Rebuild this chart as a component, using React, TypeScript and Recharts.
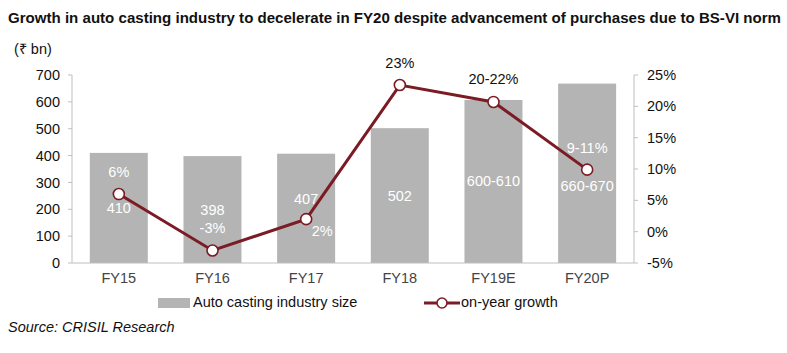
import { ComposedChart, Bar, Line, XAxis, YAxis } from 'recharts';

const categories = ['FY15', 'FY16', 'FY17', 'FY18', 'FY19E', 'FY20P'];
const industrySize = [410, 398, 407, 502, 607, 668];
const yoyGrowth = [6, -3, 2, 23.4, 20.7, 9.9];
const sizeLabels = ['410', '398', '407', '502', '600-610', '660-670'];
const growthLabels = ['6%', '-3%', '2%', '23%', '20-22%', '9-11%'];
const leftTicks = [0, 100, 200, 300, 400, 500, 600, 700];
const rightTicks = [-5, 0, 5, 10, 15, 20, 25];

// label nudges (px) so the text clears the line, as in the source chart
const sizeLabelShift = [0, 0, -9, 0, 0, 13];
const growthLabelDx = [0, 0, 16, 0, 0, 0];
const growthLabelDy = [-22, -22, 12, -22, -23, -22];
const growthLabelInBar = [true, true, true, false, false, true];

const BAR_COLOR = '#b4b4b4';
const LINE_COLOR = '#7b1c25';
const AXIS_COLOR = '#bfbfbf';
const FONT = '"Liberation Sans", Arial, sans-serif';

const data = categories.map((c, i) => ({
  year: c,
  size: industrySize[i],
  growth: yoyGrowth[i],
}));

const SizeBar = (props: any) => {
  const { x, y, width, height, index } = props;
  return (
    <g>
      <rect x={x} y={y} width={width} height={height} fill={BAR_COLOR} />
      <text
        x={x + width / 2}
        y={y + height / 2 + sizeLabelShift[index]}
        textAnchor="middle"
        dominantBaseline="central"
        fill="#ffffff"
        fontSize={14.5}
        fontFamily={FONT}
      >
        {sizeLabels[index]}
      </text>
    </g>
  );
};

const GrowthDot = (props: any) => {
  const { cx, cy, index } = props;
  return (
    <g key={`dot-${index}`}>
      <circle cx={cx} cy={cy} r={5.5} fill="#ffffff" stroke={LINE_COLOR} strokeWidth={1.6} />
      <text
        x={cx + growthLabelDx[index]}
        y={cy + growthLabelDy[index]}
        textAnchor="middle"
        dominantBaseline="central"
        fill={growthLabelInBar[index] ? '#ffffff' : '#111111'}
        fontSize={14.5}
        fontFamily={FONT}
      >
        {growthLabels[index]}
      </text>
    </g>
  );
};

const ChartLegend = () => (
  <div style={{ position: 'absolute', left: 0, top: 293, width: 787, height: 20, fontSize: 14.5, color: '#111' }}>
    <div style={{ position: 'absolute', left: 158, top: 5, width: 32, height: 10, background: BAR_COLOR }} />
    <div style={{ position: 'absolute', left: 193, top: 1 }}>Auto casting industry size</div>
    <svg style={{ position: 'absolute', left: 424, top: 0 }} width={36} height={20}>
      <line x1={0} y1={10} x2={36} y2={10} stroke={LINE_COLOR} strokeWidth={3} />
      <circle cx={18} cy={10} r={5} fill="#fff" stroke={LINE_COLOR} strokeWidth={1.6} />
    </svg>
    <div style={{ position: 'absolute', left: 461, top: 1 }}>on-year growth</div>
  </div>
);

export default function App() {
  return (
    <div style={{ position: 'absolute', left: 0, top: 0, width: 787, height: 353, background: '#fff', fontFamily: FONT }}>
      <svg style={{ position: 'absolute', left: 0, top: 0 }} width={787} height={36}>
        <text
          x={8}
          y={23}
          fontFamily={FONT}
          fontWeight="bold"
          fontSize={15}
          fill="#111"
          textLength={773}
          lengthAdjust="spacingAndGlyphs"
        >
          Growth in auto casting industry to decelerate in FY20 despite advancement of purchases due to BS-VI norm
        </text>
      </svg>
      <div style={{ position: 'absolute', left: 14, top: 38, fontSize: 14.5, color: '#111' }}>(₹ bn)</div>
      <div style={{ position: 'absolute', left: 0, top: 0 }}>
        <ComposedChart
          width={787}
          height={353}
          data={data}
          margin={{ top: 75, right: 93, left: 12, bottom: 60 }}
          barCategoryGap="19%"
        >
          <XAxis
            dataKey="year"
            height={30}
            stroke={AXIS_COLOR}
            tickLine={false}
            tickSize={0}
            tickMargin={10}
            tick={{ fill: '#444', fontSize: 14.5, fontFamily: FONT }}
          />
          <YAxis
            yAxisId="left"
            width={60}
            domain={[0, 700]}
            ticks={leftTicks}
            interval={0}
            stroke={AXIS_COLOR}
            tickSize={4}
            tickMargin={8}
            tick={{ fill: '#111', fontSize: 14.5, fontFamily: FONT }}
          />
          <YAxis
            yAxisId="right"
            orientation="right"
            width={60}
            domain={[-5, 25]}
            ticks={rightTicks}
            interval={0}
            stroke={AXIS_COLOR}
            tickSize={4}
            tickMargin={9}
            tickFormatter={(v: number) => `${v}%`}
            tick={{ fill: '#111', fontSize: 14.5, fontFamily: FONT }}
          />
          <Bar
            yAxisId="left"
            dataKey="size"
            name="Auto casting industry size"
            fill={BAR_COLOR}
            shape={SizeBar}
            isAnimationActive={false}
          />
          <Line
            yAxisId="right"
            dataKey="growth"
            name="on-year growth"
            stroke={LINE_COLOR}
            strokeWidth={3}
            dot={GrowthDot}
            activeDot={false}
            isAnimationActive={false}
          />
        </ComposedChart>
      </div>
      <ChartLegend />
      <div style={{ position: 'absolute', left: 8, top: 319, fontSize: 14.5, fontStyle: 'italic', color: '#111' }}>
        Source: CRISIL Research
      </div>
    </div>
  );
}
